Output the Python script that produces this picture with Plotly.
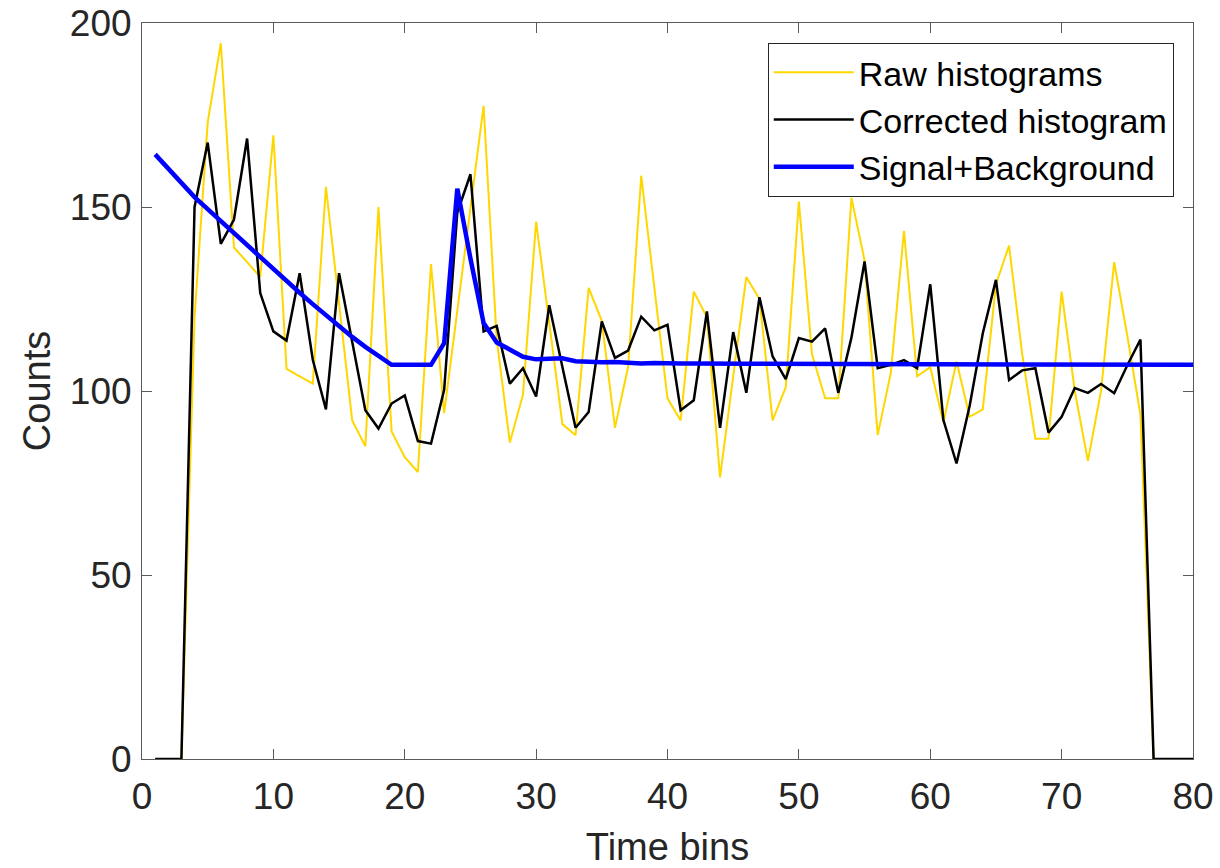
import plotly.graph_objects as go

time_bins = list(range(1, 81))

raw_histograms = [
    0, 0, 0, 120, 173, 194.5, 139, 135, 131, 169.5,
    106, 104, 102, 155.5, 124, 92, 85, 150, 89, 82,
    78, 134.5, 94, 122, 149.5, 177.5, 114, 86, 99, 146,
    118.5, 91, 88, 128, 119, 90, 106.5, 158.5, 128, 98,
    92, 127, 120, 76.5, 104, 131, 125, 92, 101, 151.5,
    110, 98, 98, 152.5, 135.5, 88, 105, 143.5, 104, 106.5,
    91.5, 108, 93, 95, 129, 139.5, 110, 87, 87, 127,
    100, 81, 100, 135, 115, 93.5, 0, 0, 0, 0,
]

corrected_histogram = [
    0, 0, 0, 150, 167.5, 140, 146.6, 168.6, 126.6, 116.2,
    113.7, 132, 108.5, 95, 132, 113.4, 94.8, 89.8, 96.6, 98.8,
    86.4, 85.7, 100.3, 148.5, 158.9, 116.2, 117.7, 102, 106.2, 98.5,
    123.3, 106.5, 90, 94.3, 118.9, 109, 111, 120.2, 116.5, 118,
    94.8, 97.5, 121.6, 90, 116, 99.5, 125.5, 109.4, 103.2, 114.4,
    113.4, 117, 99.5, 114.5, 135.2, 106.2, 107.1, 108.4, 106.2, 129,
    92.1, 80.3, 96, 115.7, 130.2, 103, 105.6, 106.2, 88.7, 93,
    100.8, 99.5, 101.9, 99.4, 107, 114, 0, 0, 0, 0,
]

signal_background = [
    164.3, 160.4, 156.5, 152.7, 149.4, 146.1, 142.8, 139.5, 136.2, 133.1,
    129.9, 126.7, 123.6, 120.5, 117.4, 114.7, 112.0, 109.5, 107.1, 107.1,
    107.1, 107.1, 113.0, 155.0, 136.0, 118.5, 113.2, 111.4, 109.3, 108.6,
    108.7, 108.9, 108.1, 107.8, 107.8, 107.9, 107.6, 107.5, 107.6, 107.7,
    107.5, 107.5, 107.4, 107.4, 107.4, 107.4, 107.4, 107.4, 107.4, 107.4,
    107.4, 107.4, 107.4, 107.3, 107.3, 107.3, 107.3, 107.3, 107.3, 107.3,
    107.3, 107.3, 107.3, 107.2, 107.2, 107.2, 107.2, 107.2, 107.2, 107.2,
    107.2, 107.2, 107.2, 107.1, 107.1, 107.1, 107.1, 107.1, 107.1, 107.1,
]

x_ticks = [0, 10, 20, 30, 40, 50, 60, 70, 80]
y_ticks = [0, 50, 100, 150, 200]

FONT = "Liberation Sans, Arial, sans-serif"
TEXT = "#262626"
AXIS = "#5a5a5a"

fig = go.Figure()
fig.add_trace(go.Scatter(x=time_bins, y=raw_histograms, mode="lines",
                         name="Raw histograms", cliponaxis=False,
                         line=dict(color="#FFD700", width=2)))
fig.add_trace(go.Scatter(x=time_bins, y=corrected_histogram, mode="lines",
                         name="Corrected histogram", cliponaxis=False,
                         line=dict(color="black", width=2.5)))
fig.add_trace(go.Scatter(x=time_bins, y=signal_background, mode="lines",
                         name="Signal+Background", cliponaxis=False,
                         line=dict(color="#0000FF", width=4.5)))

axis_common = dict(
    showline=True, linecolor=AXIS, linewidth=1, mirror="ticks",
    ticks="inside", ticklen=10, tickwidth=1, tickcolor=AXIS,
    showgrid=False, zeroline=False, automargin=False,
    tickfont=dict(family=FONT, size=37, color=TEXT),
)

fig.update_layout(
    width=1220, height=868,
    margin=dict(l=142, r=27, t=23, b=109, autoexpand=False),
    paper_bgcolor="white", plot_bgcolor="white",
    font=dict(family=FONT, color=TEXT),
    showlegend=True,
    legend=dict(
        x=0.9817, y=0.9732, xanchor="right", yanchor="top",
        bgcolor="white", bordercolor=TEXT, borderwidth=1,
        font=dict(family=FONT, size=34, color="black"),
        itemwidth=80, tracegroupgap=0,
    ),
    xaxis=dict(range=[0, 80], tickvals=x_ticks, ticklabelstandoff=5,
               title=dict(text="Time bins", font=dict(family=FONT, size=38, color=TEXT), standoff=22),
               **axis_common),
    yaxis=dict(range=[0, 200], tickvals=y_ticks, ticklabelstandoff=2,
               title=dict(text="Counts", font=dict(family=FONT, size=38, color=TEXT), standoff=7),
               **axis_common),
)

fig.write_html(
    "out.html",
    config={"displayModeBar": False},
    post_script="document.body.style.margin='0';document.body.style.overflow='hidden';",
)
